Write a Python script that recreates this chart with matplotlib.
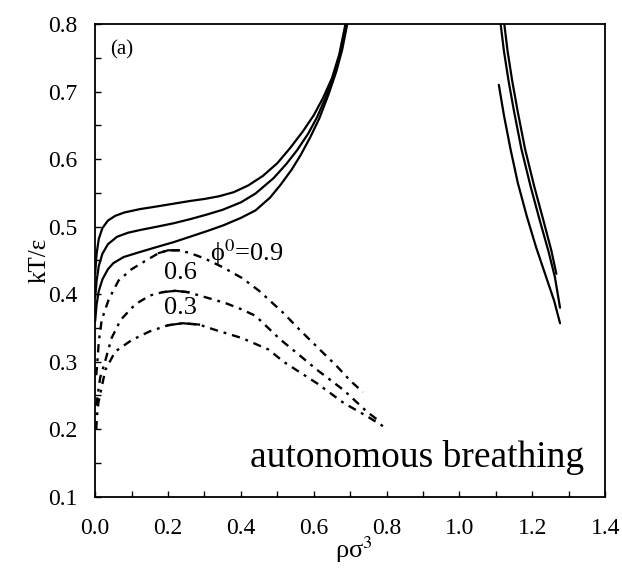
import numpy as np
import matplotlib.pyplot as plt

plt.rcParams['font.family'] = ['Liberation Serif', 'DejaVu Serif']
plt.rcParams['mathtext.fontset'] = 'stix'

# coexistence curves, liquid-gas side (solid lines)
sol_top_x = [0.0, 0.004, 0.01, 0.02, 0.035, 0.055, 0.08, 0.123, 0.17, 0.215, 0.26, 0.30, 0.34, 0.38, 0.42, 0.46, 0.50,
             0.536, 0.57, 0.60, 0.625, 0.65, 0.67, 0.687]
sol_top_y = [0.43, 0.46, 0.482, 0.498, 0.509, 0.516, 0.521, 0.526, 0.530, 0.534, 0.538, 0.541, 0.545, 0.551, 0.561, 0.575, 0.594,
             0.617, 0.641, 0.665, 0.69, 0.72, 0.755, 0.80]
sol_mid_x = [0.0, 0.004, 0.01, 0.02, 0.035, 0.06, 0.09, 0.123, 0.17, 0.215, 0.26, 0.307, 0.35, 0.40, 0.44, 0.49, 0.525,
             0.554, 0.585, 0.609, 0.63, 0.655, 0.673, 0.69]
sol_mid_y = [0.395, 0.42, 0.442, 0.46, 0.474, 0.485, 0.491, 0.495, 0.500, 0.505, 0.511, 0.518, 0.525, 0.536, 0.549, 0.572, 0.593,
             0.613, 0.638, 0.662, 0.688, 0.722, 0.758, 0.80]
sol_bot_x = [0.0, 0.004, 0.01, 0.02, 0.035, 0.05, 0.078, 0.12, 0.17, 0.215, 0.26, 0.31, 0.352, 0.40, 0.44, 0.48, 0.509,
             0.54, 0.564, 0.59, 0.615, 0.64, 0.662, 0.678, 0.692]
sol_bot_y = [0.36, 0.385, 0.405, 0.422, 0.437, 0.446, 0.455, 0.462, 0.47, 0.477, 0.485, 0.494, 0.502, 0.513, 0.524, 0.543, 0.562,
             0.585, 0.606, 0.632, 0.66, 0.695, 0.73, 0.762, 0.80]

# solid branch at high density
solid_r1_x = [1.108, 1.122, 1.14, 1.16, 1.185, 1.21, 1.235, 1.26, 1.276]
solid_r1_y = [0.71, 0.665, 0.615, 0.565, 0.515, 0.47, 0.43, 0.39, 0.357]
solid_r2_x = [1.113, 1.122, 1.135, 1.15, 1.17, 1.195, 1.22, 1.245, 1.262, 1.276]
solid_r2_y = [0.80, 0.76, 0.715, 0.67, 0.615, 0.56, 0.51, 0.462, 0.425, 0.38]
solid_r3_x = [1.123, 1.132, 1.145, 1.16, 1.18, 1.205, 1.23, 1.252, 1.266]
solid_r3_y = [0.80, 0.76, 0.715, 0.67, 0.615, 0.56, 0.51, 0.465, 0.43]

# autonomous breathing curves, phi0 = 0.9, 0.6, 0.3
br09_x = [0.003, 0.006, 0.01, 0.018, 0.037, 0.064, 0.1, 0.14, 0.175, 0.2, 0.23, 0.26, 0.3, 0.35, 0.403, 0.45, 0.517, 0.56, 0.609, 0.664, 0.70, 0.735]
br09_y = [0.28, 0.30, 0.33, 0.362, 0.392, 0.42, 0.437, 0.45, 0.461, 0.465, 0.465, 0.461, 0.453, 0.440, 0.424, 0.405, 0.372, 0.348, 0.322, 0.293, 0.272, 0.255]
br06_x = [0.003, 0.008, 0.014, 0.027, 0.045, 0.07, 0.11, 0.15, 0.185, 0.22, 0.255, 0.293, 0.357, 0.40, 0.44, 0.508, 0.56, 0.609, 0.682, 0.746, 0.775]
br06_y = [0.235, 0.255, 0.277, 0.30, 0.335, 0.362, 0.385, 0.398, 0.403, 0.405, 0.403, 0.397, 0.387, 0.378, 0.368, 0.333, 0.31, 0.288, 0.258, 0.226, 0.214]
br03_x = [0.003, 0.005, 0.009, 0.028, 0.055, 0.1, 0.15, 0.2, 0.24, 0.285, 0.33, 0.403, 0.476, 0.517, 0.609, 0.682, 0.75, 0.795]
br03_y = [0.20, 0.22, 0.24, 0.288, 0.315, 0.332, 0.345, 0.354, 0.357, 0.355, 0.347, 0.335, 0.318, 0.30, 0.268, 0.239, 0.218, 0.203]

fig = plt.figure(figsize=(6.22, 5.73), dpi=100)
ax = fig.add_axes([0.153, 0.133, 0.82, 0.825])

for xs, ys in [(sol_top_x, sol_top_y), (sol_mid_x, sol_mid_y), (sol_bot_x, sol_bot_y),
               (solid_r1_x, solid_r1_y), (solid_r2_x, solid_r2_y), (solid_r3_x, solid_r3_y)]:
    ax.plot(xs, ys, color='black', lw=1.6, solid_capstyle='round', solid_joinstyle='round')

dash = (0, (3.5, 2.5, 1.2, 2.5))
for xs, ys in [(br09_x, br09_y), (br06_x, br06_y), (br03_x, br03_y)]:
    ax.plot(xs, ys, color='black', lw=1.7, linestyle=dash)
    # solid arc over the maximum
    k = int(np.argmax(ys))
    ax.plot(xs[k - 1:k + 2], ys[k - 1:k + 2], color='black', lw=1.6)

ax.text(0.04, 0.762, '(a)', fontsize=15, va='center')
ax.text(0.315, 0.462, 'ϕ$^0$=0.9', fontsize=19, va='center')
ax.text(0.19, 0.431, '0.6', fontsize=19, va='center')
ax.text(0.19, 0.380, '0.3', fontsize=19, va='center')
ax.text(0.425, 0.158, 'autonomous breathing', fontsize=27, va='center')

ax.set_xlim(0, 1.4)
ax.set_ylim(0.1, 0.8)
ax.set_xticks(np.arange(0, 1.41, 0.2))
ax.set_xticks(np.arange(0, 1.41, 0.1), minor=True)
ax.set_yticks(np.arange(0.1, 0.81, 0.1))
ax.set_yticks(np.arange(0.1, 0.81, 0.05), minor=True)
ax.set_xticklabels(['%.1f' % v for v in np.arange(0, 1.41, 0.2)])
ax.set_yticklabels(['%.1f' % v for v in np.arange(0.1, 0.81, 0.1)])
ax.tick_params(which='both', direction='in', length=4, width=1, labelsize=17)
ax.tick_params(axis='x', which='both', pad=15)
ax.tick_params(axis='y', which='both', pad=13)
for s in ax.spines.values():
    s.set_linewidth(1.3)

ax.text(0.762, -0.112, 'ρσ$^3$', fontsize=19, ha='right', va='center',
        transform=ax.get_xaxis_transform())
ax.set_ylabel('kT/ε', fontsize=18, labelpad=-2)

fig.savefig('out.png', dpi=100)
